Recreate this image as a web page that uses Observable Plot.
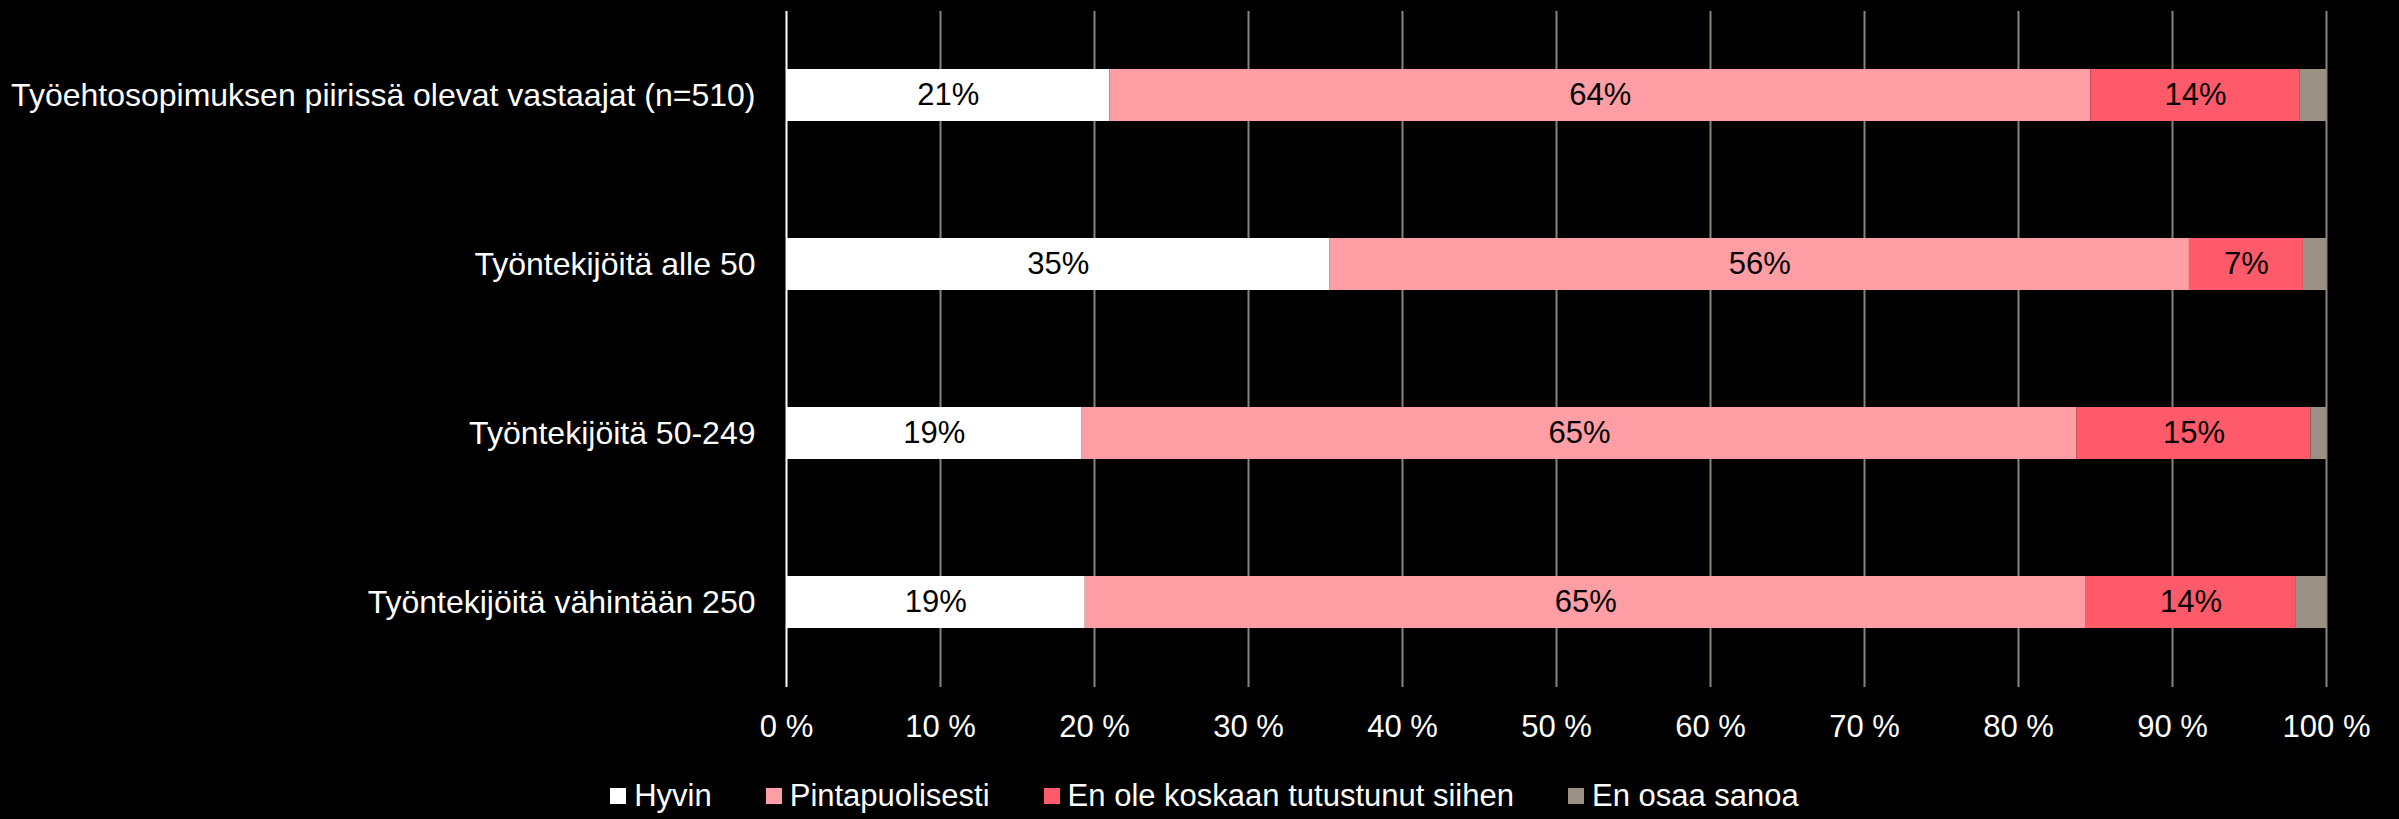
<!DOCTYPE html>
<html>
<head>
<meta charset="utf-8">
<script src="https://cdn.jsdelivr.net/npm/d3@7"></script>
<script src="https://cdn.jsdelivr.net/npm/@observablehq/plot@0.6"></script>
<style>
  html, body { margin: 0; padding: 0; background: #000; }
  body { width: 2399px; height: 819px; overflow: hidden; font-family: "Liberation Sans", Arial, sans-serif; }
  #legend { display: flex; justify-content: center; align-items: center; color: #fff; font-size: 31px; height: 50px; margin-top: 16px; padding-left: 10px; }
  .item { display: flex; align-items: center; margin: 0 27px; }
  .sw { width: 16px; height: 16px; margin-right: 8px; display: inline-block; }
</style>
</head>
<body>
<div id="chart"></div>
<div id="legend"></div>
<script>
const categories = [
  "Työehtosopimuksen piirissä olevat vastaajat (n=510)",
  "Työntekijöitä alle 50",
  "Työntekijöitä 50-249",
  "Työntekijöitä vähintään 250"
];
const seriesNames = ["Hyvin", "Pintapuolisesti", "En ole koskaan tutustunut siihen", "En osaa sanoa"];
const hyvin = [21.0, 35.3, 19.2, 19.4];
const pintapuolisesti = [63.7, 55.8, 64.6, 65.0];
const enOle = [13.6, 7.4, 15.2, 13.6];
const enOsaa = [1.7, 1.5, 1.0, 2.0];
const seriesColors = ["#ffffff", "#ff9ea5", "#ff5a6a", "#9a9084"];
const xTicks = [0, 10, 20, 30, 40, 50, 60, 70, 80, 90, 100];

const seriesValues = [hyvin, pintapuolisesti, enOle, enOsaa];
const rows = [];
categories.forEach((c, i) => {
  seriesNames.forEach((s, j) => {
    rows.push({category: c, series: s, value: seriesValues[j][i]});
  });
});

const W = 2399, H = 755;
const chart = Plot.plot({
  width: W,
  height: H,
  marginLeft: 786,
  marginRight: 73,
  marginTop: 11,
  marginBottom: H - 687,
  style: {background: "#000", color: "#fff", fontFamily: "'Liberation Sans', Arial, sans-serif"},
  x: {domain: [0, 100], label: null},
  y: {domain: categories, paddingInner: 0.69, paddingOuter: 0.345, label: null},
  color: {domain: seriesNames, range: seriesColors},
  marks: [
    Plot.ruleX(xTicks.slice(1), {stroke: "#8c8279", strokeWidth: 2}),
    Plot.barX(rows, Plot.stackX({x: "value", y: "category", fill: "series", z: "series"})),
    Plot.text(rows, Plot.stackX({
      x: "value", y: "category", z: "series",
      text: d => d.series === "En osaa sanoa" ? "" : Math.round(d.value) + "%",
      fill: "#000", fontSize: 31
    })),
    Plot.ruleX([0], {stroke: "#fff", strokeWidth: 2}),
    Plot.axisX({ticks: xTicks, tickFormat: d => d + " %", tickSize: 0, tickPadding: 27, fontSize: 31, fill: "#fff", label: null}),
    Plot.axisY({tickSize: 0, tickPadding: 31, fontSize: 32, fill: "#fff", label: null})
  ]
});
document.getElementById("chart").appendChild(chart);

const legend = document.getElementById("legend");
seriesNames.forEach((s, j) => {
  const item = document.createElement("span");
  item.className = "item";
  const sw = document.createElement("span");
  sw.className = "sw";
  sw.style.background = seriesColors[j];
  item.appendChild(sw);
  item.appendChild(document.createTextNode(s));
  legend.appendChild(item);
});
</script>
</body>
</html>
